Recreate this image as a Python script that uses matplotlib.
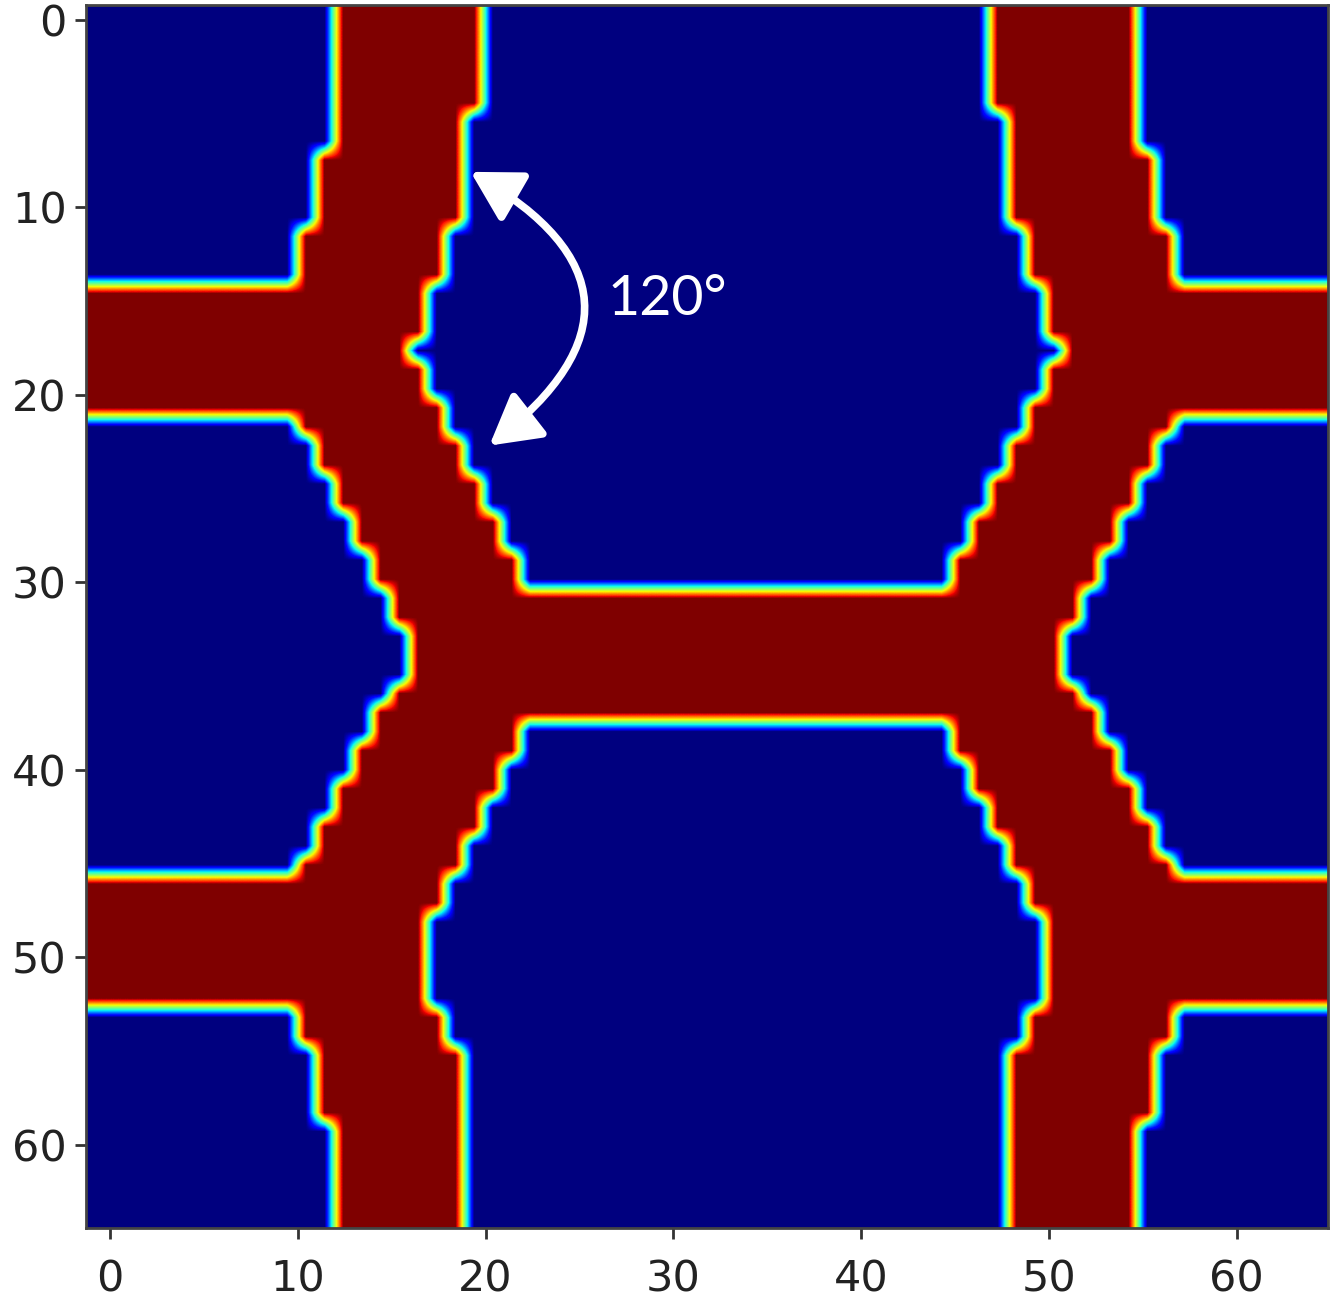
import numpy as np
import matplotlib
matplotlib.use("Agg")
import matplotlib.pyplot as plt
from matplotlib.patches import FancyArrowPatch

# red (phase = 1) runs per grid row, inclusive column ranges, rows -1..63
red_runs = [
    [(13, 20), (48, 55)],  # -1
    [(13, 20), (48, 55)],  # 0
    [(13, 20), (48, 55)],
    [(13, 20), (48, 55)],
    [(13, 20), (48, 55)],
    [(13, 20), (48, 55)],  # 4
    [(13, 19), (49, 55)],  # 5
    [(13, 19), (49, 55)],
    [(12, 19), (49, 56)],  # 7
    [(12, 19), (49, 56)],
    [(12, 19), (49, 56)],
    [(12, 19), (49, 56)],  # 10
    [(11, 18), (50, 57)],
    [(11, 18), (50, 57)],
    [(11, 18), (50, 57)],  # 13
    [(-1, 17), (51, 66)],  # 14
    [(-1, 17), (51, 66)],
    [(-1, 17), (51, 66)],
    [(-1, 16), (52, 66)],  # 17
    [(-1, 17), (51, 66)],
    [(-1, 17), (51, 66)],
    [(-1, 18), (50, 66)],  # 20
    [(11, 18), (50, 57)],
    [(12, 19), (49, 56)],
    [(12, 19), (49, 56)],
    [(13, 20), (48, 55)],  # 24
    [(13, 20), (48, 55)],
    [(14, 21), (47, 54)],
    [(14, 21), (47, 54)],
    [(15, 22), (46, 53)],  # 28
    [(15, 22), (46, 53)],
    [(16, 52)],            # 30
    [(16, 52)],
    [(17, 51)],
    [(17, 51)],
    [(17, 51)],
    [(16, 52)],            # 35
    [(15, 53)],
    [(15, 22), (46, 53)],
    [(14, 22), (46, 54)],
    [(14, 21), (47, 54)],
    [(13, 21), (47, 55)],  # 40
    [(13, 20), (48, 55)],
    [(12, 20), (48, 56)],
    [(12, 19), (49, 56)],
    [(11, 19), (49, 57)],
    [(-1, 18), (50, 66)],  # 45
    [(-1, 18), (50, 66)],
    [(-1, 17), (51, 66)],
    [(-1, 17), (51, 66)],
    [(-1, 17), (51, 66)],
    [(-1, 17), (51, 66)],  # 50
    [(-1, 17), (51, 66)],
    [(11, 18), (50, 57)],
    [(11, 18), (50, 57)],
    [(12, 19), (49, 56)],
    [(12, 19), (49, 56)],  # 55
    [(12, 19), (49, 56)],
    [(12, 19), (49, 56)],
    [(13, 19), (49, 55)],
    [(13, 19), (49, 55)],
    [(13, 19), (49, 55)],  # 60
    [(13, 19), (49, 55)],
    [(13, 19), (49, 55)],
    [(13, 19), (49, 55)],  # 63
]
ticks = [0, 10, 20, 30, 40, 50, 60]
angle_label = "120°"

field = np.zeros((len(red_runs), 68))
for i, runs in enumerate(red_runs):
    for a, b in runs:
        field[i, a + 1:b + 2] = 1.0

fig = plt.figure(figsize=(13.41, 13.13), dpi=100)
ax = fig.add_axes([86 / 1341, 1 - 1228 / 1313, 1242 / 1341, 1223 / 1313])
ax.imshow(field, cmap="jet", vmin=0, vmax=1, interpolation="bilinear",
          interpolation_stage="data", extent=(-2.01, 65.70, 64.88, -1.16),
          aspect="auto")
ax.set_xlim(-1.28, 64.86)
ax.set_ylim(64.43, -0.8)
ax.set_xticks(ticks)
ax.set_yticks(ticks)
ax.tick_params(labelsize=31, length=8, width=2, color="#333333", labelcolor="#222222")
ax.tick_params(axis="x", pad=14)
ax.tick_params(axis="y", pad=6)
for s in ax.spines.values():
    s.set_color("#444444")
    s.set_linewidth(2)

# 120 degree double arrow
arr = FancyArrowPatch((19.2, 8.1), (20.2, 22.7), connectionstyle="arc3,rad=-0.74",
                      arrowstyle="<|-|>,head_length=30,head_width=17",
                      color="white", lw=5.5, shrinkA=0, shrinkB=0)
ax.add_patch(arr)
ax.text(29.7, 14.9, angle_label, color="white", fontsize=40, family="Lato",
        ha="center", va="center")

fig.savefig("out.png", dpi=100)
